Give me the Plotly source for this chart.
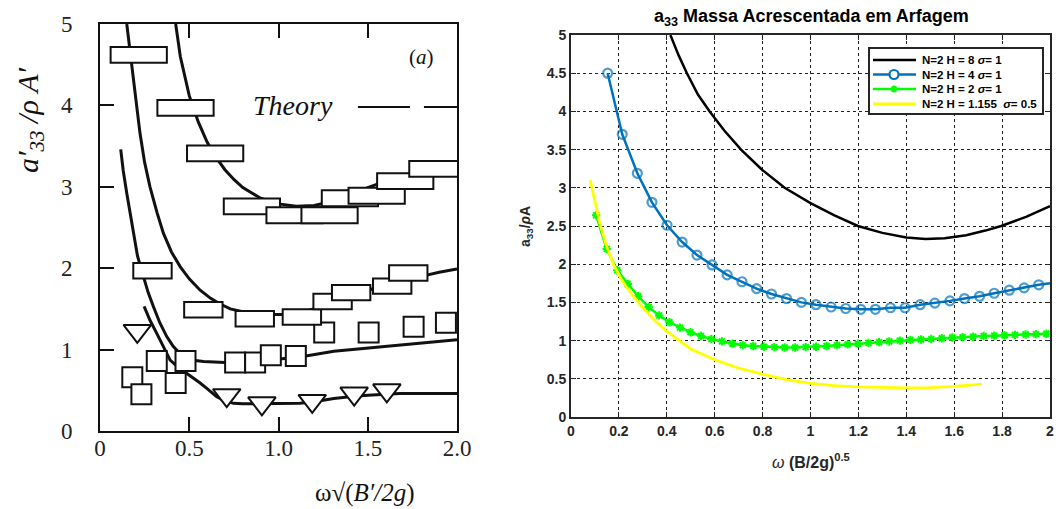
import plotly.graph_objects as go

W, H = 1056, 509
def px(x): return x / W
def py(y): return 1 - y / H

# ---------------- Left panel (scanned experiment figure) ----------------
# theory curves
c1x = [0.424,0.45,0.5,0.55,0.6,0.65,0.7,0.75,0.8,0.9,1.0,1.1,1.2,1.3,1.4,1.5,1.6,1.7,1.8,1.9]
c1y = [5.0,4.6,4.12,3.8,3.55,3.36,3.21,3.09,2.99,2.86,2.79,2.76,2.77,2.82,2.9,2.99,3.07,3.14,3.2,3.25]
c2x = [0.15,0.178,0.2,0.224,0.25,0.28,0.32,0.355,0.4,0.449,0.5,0.561,0.62,0.673,0.73,0.785,0.85,0.935,1.02,1.12,1.2,1.31,1.4,1.5,1.6,1.68,1.8,1.9,2.0]
c2y = [5.0,4.48,4.05,3.66,3.3,3.0,2.68,2.43,2.2,2.02,1.87,1.73,1.63,1.56,1.5,1.47,1.44,1.43,1.43,1.45,1.5,1.57,1.64,1.73,1.79,1.84,1.9,1.95,1.99]
c3x = [0.116,0.13,0.15,0.17,0.187,0.21,0.243,0.27,0.299,0.335,0.374,0.41,0.449,0.49,0.523,0.58,0.636,0.7,0.748,0.8,0.935,1.12,1.31,1.5,1.68,1.85,2.0]
c3y = [3.46,3.2,2.92,2.65,2.43,2.15,1.9,1.7,1.53,1.33,1.16,1.04,0.95,0.9,0.87,0.855,0.85,0.84,0.83,0.84,0.87,0.91,0.98,1.02,1.06,1.09,1.12]
c4x = [0.247,0.28,0.318,0.355,0.393,0.44,0.486,0.52,0.561,0.6,0.654,0.7,0.748,0.8,0.935,1.12,1.2,1.31,1.4,1.5,1.68,1.85,2.0]
c4y = [1.53,1.36,1.2,1.03,0.87,0.78,0.71,0.65,0.59,0.52,0.42,0.37,0.34,0.335,0.34,0.34,0.36,0.4,0.42,0.44,0.46,0.46,0.46]

# experimental points
rectA_x = [0.217,0.479,0.645,0.851,1.09,1.286,1.40,1.55,1.71,1.89]
rectA_y = [4.62,3.97,3.41,2.76,2.65,2.65,2.86,2.89,3.07,3.22]
rectB_x = [0.294,0.579,0.867,1.131,1.303,1.407,1.637,1.727]
rectB_y = [1.97,1.49,1.38,1.40,1.59,1.70,1.78,1.94]
sq_x = [0.181,0.232,0.318,0.424,0.479,0.757,0.869,0.957,1.097,1.256,1.505,1.757,1.938]
sq_y = [0.66,0.45,0.86,0.59,0.86,0.84,0.84,0.93,0.92,1.21,1.21,1.28,1.33]
tri_x = [0.209,0.71,0.907,1.189,1.424,1.607]
tri_y = [1.23,0.44,0.34,0.37,0.46,0.50]

left_xticks = [0, 0.5, 1.0, 1.5, 2.0]
left_xtext = ["0", "0.5", "1.0", "1.5", "2.0"]
left_yticks = [0, 1, 2, 3, 4, 5]

# ---------------- Right panel (computed curves) ----------------
h8_x = [0.415,0.45,0.484,0.53,0.579,0.64,0.71,0.8,0.892,1.0,1.1,1.198,1.3,1.4,1.48,1.56,1.65,1.73,1.796,1.9,2.0]
h8_y = [5.0,4.73,4.5,4.22,4.0,3.75,3.5,3.23,3.0,2.8,2.64,2.5,2.41,2.35,2.33,2.34,2.38,2.44,2.5,2.62,2.76]

h4_x = [0.153,0.214,0.277,0.338,0.401,0.464,0.526,0.589,0.652,0.714,0.775,0.837,0.9,0.962,1.023,
        1.086,1.147,1.21,1.271,1.334,1.395,1.458,1.519,1.582,1.643,1.706,1.767,1.83,1.892,1.953,2.0]
h4_y = [4.5,3.70,3.19,2.81,2.51,2.29,2.12,1.99,1.86,1.77,1.68,1.61,1.55,1.50,1.47,
        1.44,1.42,1.41,1.41,1.43,1.43,1.47,1.49,1.52,1.55,1.58,1.62,1.66,1.69,1.73,1.75]

h2_x = [0.105,0.149,0.193,0.237,0.280,0.324,0.368,0.411,0.455,0.499,0.543,0.586,0.630,0.674,0.717,
        0.761,0.805,0.849,0.892,0.936,0.980,1.023,1.067,1.111,1.155,1.198,1.242,1.286,1.329,1.373,
        1.417,1.461,1.504,1.548,1.592,1.635,1.679,1.723,1.767,1.810,1.854,1.898,1.941,1.985]
h2_y = [2.64,2.20,1.92,1.74,1.58,1.44,1.33,1.24,1.17,1.11,1.06,1.02,0.99,0.96,0.94,
        0.93,0.92,0.915,0.91,0.91,0.915,0.92,0.93,0.94,0.95,0.96,0.97,0.98,0.99,1.00,
        1.01,1.015,1.02,1.03,1.04,1.045,1.05,1.06,1.065,1.07,1.075,1.08,1.085,1.09]

h1_x = [0.08,0.10,0.12,0.15,0.18,0.21,0.25,0.30,0.35,0.40,0.45,0.50,0.60,0.70,0.80,0.90,1.0,1.1,1.2,1.3,1.4,1.5,1.6,1.716]
h1_y = [3.10,2.80,2.54,2.22,1.98,1.80,1.62,1.43,1.26,1.12,1.00,0.89,0.75,0.64,0.56,0.49,0.44,0.41,0.395,0.385,0.38,0.385,0.40,0.43]

legend_labels = ["N=2 H = 8 <i>σ</i>= 1", "N=2 H = 4 <i>σ</i>= 1",
                 "N=2 H = 2 <i>σ</i>= 1", "N=2 H = 1.155  <i>σ</i>= 0.5"]
BLUE, GREEN, YELLOW, BLACK = "#0072BD", "#00FF00", "#FFFF00", "#000000"

fig = go.Figure()

INK = "#111111"
for cx, cy in [(c1x, c1y), (c2x, c2y), (c3x, c3y), (c4x, c4y)]:
    fig.add_trace(go.Scatter(x=cx, y=cy, mode="lines", line=dict(color=INK, width=3),
                             xaxis="x", yaxis="y", showlegend=False, hoverinfo="skip"))

fig.add_trace(go.Scatter(x=sq_x, y=sq_y, mode="markers", xaxis="x", yaxis="y", showlegend=False,
                         marker=dict(symbol="square", size=20, color="white",
                                     line=dict(color=INK, width=2))))
fig.add_trace(go.Scatter(x=tri_x, y=tri_y, mode="markers", xaxis="x", yaxis="y", showlegend=False,
                         marker=dict(symbol="triangle-down", size=24, color="white",
                                     line=dict(color=INK, width=2))))

shapes = []
RA_W, RA_H = 0.315, 0.195
RB_W, RB_H = 0.215, 0.19
for xs, ys, w, h in [(rectA_x, rectA_y, RA_W, RA_H), (rectB_x, rectB_y, RB_W, RB_H)]:
    for cx, cy in zip(xs, ys):
        shapes.append(dict(type="rect", xref="x", yref="y", x0=cx - w / 2, x1=cx + w / 2,
                           y0=cy - h / 2, y1=cy + h / 2, fillcolor="white",
                           line=dict(color=INK, width=2), layer="above"))
# "Theory" key line
shapes.append(dict(type="line", xref="x", yref="y", x0=1.445, x1=2.0, y0=3.98, y1=3.98,
                   line=dict(color=INK, width=2, dash="52px,14px")))

# Right traces
fig.add_trace(go.Scatter(x=h8_x, y=h8_y, mode="lines", xaxis="x2", yaxis="y2", showlegend=False,
                         line=dict(color=BLACK, width=2.5)))
msize = [9] * (len(h4_x) - 1) + [0]
fig.add_trace(go.Scatter(x=h4_x, y=h4_y, mode="lines+markers", xaxis="x2", yaxis="y2", showlegend=False,
                         line=dict(color=BLUE, width=2.5),
                         marker=dict(symbol="circle-open", size=msize, color=BLUE, line=dict(width=2.2))))
fig.add_trace(go.Scatter(x=h2_x, y=h2_y, mode="lines+markers", xaxis="x2", yaxis="y2", showlegend=False,
                         line=dict(color=GREEN, width=2.5),
                         marker=dict(symbol="asterisk-open", size=7, color=GREEN, line=dict(width=2))))
fig.add_trace(go.Scatter(x=h1_x, y=h1_y, mode="lines", xaxis="x2", yaxis="y2", showlegend=False,
                         line=dict(color=YELLOW, width=2.8)))

# manual legend (compact, like MATLAB)
LX0, LX1, LY0, LY1 = 869, 1043, 48, 114
shapes.append(dict(type="rect", xref="paper", yref="paper", x0=px(LX0), x1=px(LX1),
                   y0=py(LY1), y1=py(LY0), fillcolor="white", line=dict(color="#262626", width=2),
                   layer="above"))
rows = [60, 74.5, 89, 104]
cols = [BLACK, BLUE, GREEN, YELLOW]
annotations = []
for i, (ry, col, lab) in enumerate(zip(rows, cols, legend_labels)):
    shapes.append(dict(type="line", xref="paper", yref="paper", x0=px(873), x1=px(916),
                       y0=py(ry), y1=py(ry), line=dict(color=col, width=3 if i == 3 else 2.6),
                       layer="above"))
    annotations.append(dict(x=px(920), y=py(ry), xref="paper", yref="paper", text=lab,
                            showarrow=False, xanchor="left", yanchor="middle",
                            font=dict(family="Liberation Sans, Arial", size=11.5, color="black",
                                      weight="bold")))
# legend circle marker
shapes.append(dict(type="circle", xref="paper", yref="paper", x0=px(889.5), x1=px(898.5),
                   y0=py(rows[1] + 4.5), y1=py(rows[1] - 4.5), fillcolor="white",
                   line=dict(color=BLUE, width=2.2), layer="above"))
# legend asterisk marker
r = 3.5
for dx, dy in [(r, 0), (0, r), (r * 0.7, r * 0.7), (r * 0.7, -r * 0.7)]:
    shapes.append(dict(type="line", xref="paper", yref="paper", x0=px(894 - dx), x1=px(894 + dx),
                       y0=py(rows[2] - dy), y1=py(rows[2] + dy),
                       line=dict(color=GREEN, width=2), layer="above"))

# Left texts
SERIF = "Liberation Serif, Times New Roman, serif"
annotations += [
    dict(x=px(30), y=py(120), xref="paper", yref="paper", showarrow=False, textangle=-90,
         xanchor="center", yanchor="middle",
         text="<i>a′<sub>33</sub> /ρ A′</i>", font=dict(family=SERIF, size=30, color="#111")),
    dict(x=px(365), y=py(493), xref="paper", yref="paper", showarrow=False,
         xanchor="center", yanchor="middle",
         text="ω√(<i>B′/2g</i>)", font=dict(family=SERIF, size=25, color="#111")),
    dict(x=1.08, y=4.0, xref="x", yref="y", showarrow=False, xanchor="center", yanchor="middle",
         text="<i>Theory</i>", font=dict(family=SERIF, size=28, color="#111")),
    dict(x=1.80, y=4.59, xref="x", yref="y", showarrow=False, xanchor="center", yanchor="middle",
         text="(<i>a</i>)", font=dict(family=SERIF, size=21, color="#111")),
]
SANS = "Liberation Sans, Arial, sans-serif"
annotations += [
    dict(x=px(811), y=py(17), xref="paper", yref="paper", showarrow=False,
         xanchor="center", yanchor="middle",
         text="a<sub>33</sub> Massa Acrescentada em Arfagem",
         font=dict(family=SANS, size=18, color="black", weight="bold")),
    dict(x=px(526), y=py(227), xref="paper", yref="paper", showarrow=False, textangle=-90,
         xanchor="center", yanchor="middle",
         text="a<sub>33</sub>/<i>ρ</i>A", font=dict(family=SANS, size=14, color="#262626", weight="bold")),
    dict(x=px(811), y=py(461), xref="paper", yref="paper", showarrow=False,
         xanchor="center", yanchor="middle",
         text="<i style='font-weight:normal'>ω</i> (B/2g)<sup>0.5</sup>",
         font=dict(family=SANS, size=16, color="#262626", weight="bold")),
]

fig.update_layout(
    width=W, height=H, margin=dict(l=0, r=0, t=0, b=0, autoexpand=False),
    paper_bgcolor="white", plot_bgcolor="white",
    showlegend=False,
    shapes=shapes, annotations=annotations,
    xaxis=dict(domain=[px(100), px(457)], range=[0, 2], showgrid=False, zeroline=False,
               automargin=False,
               showline=True, linecolor=INK, linewidth=2, mirror="ticks",
               ticks="inside", ticklen=14, tickwidth=2, tickcolor=INK,
               tickvals=left_xticks, ticktext=left_xtext, ticklabelstandoff=-5,
               tickfont=dict(family=SERIF, size=23, color="#222"), anchor="y"),
    yaxis=dict(domain=[py(431), py(24)], range=[0, 5], showgrid=False, zeroline=False,
               automargin=False,
               showline=True, linecolor=INK, linewidth=2, mirror=True,
               ticks="inside", ticklen=14, tickwidth=2, tickcolor=INK,
               tickvals=left_yticks, ticklabelstandoff=21,
               tickfont=dict(family=SERIF, size=23, color="#222"), anchor="x"),
    xaxis2=dict(domain=[px(571), px(1050)], range=[0, 2], dtick=0.2, tick0=0,
                automargin=False,
                showgrid=True, gridcolor="#222", griddash="dot", gridwidth=1, zeroline=False,
                showline=True, linecolor="#262626", linewidth=2, mirror="ticks",
                ticks="inside", ticklen=5, tickcolor="#262626",
                tickfont=dict(family=SANS, size=14, color="#262626", weight="bold"), anchor="y2"),
    yaxis2=dict(domain=[py(417), py(35)], range=[0, 5], dtick=0.5, tick0=0,
                automargin=False,
                showgrid=True, gridcolor="#222", griddash="dot", gridwidth=1, zeroline=False,
                showline=True, linecolor="#262626", linewidth=2, mirror="ticks",
                ticks="inside", ticklen=5, tickcolor="#262626",
                tickfont=dict(family=SANS, size=14, color="#262626", weight="bold"), anchor="x2"),
)

fig.write_html("out.html")
